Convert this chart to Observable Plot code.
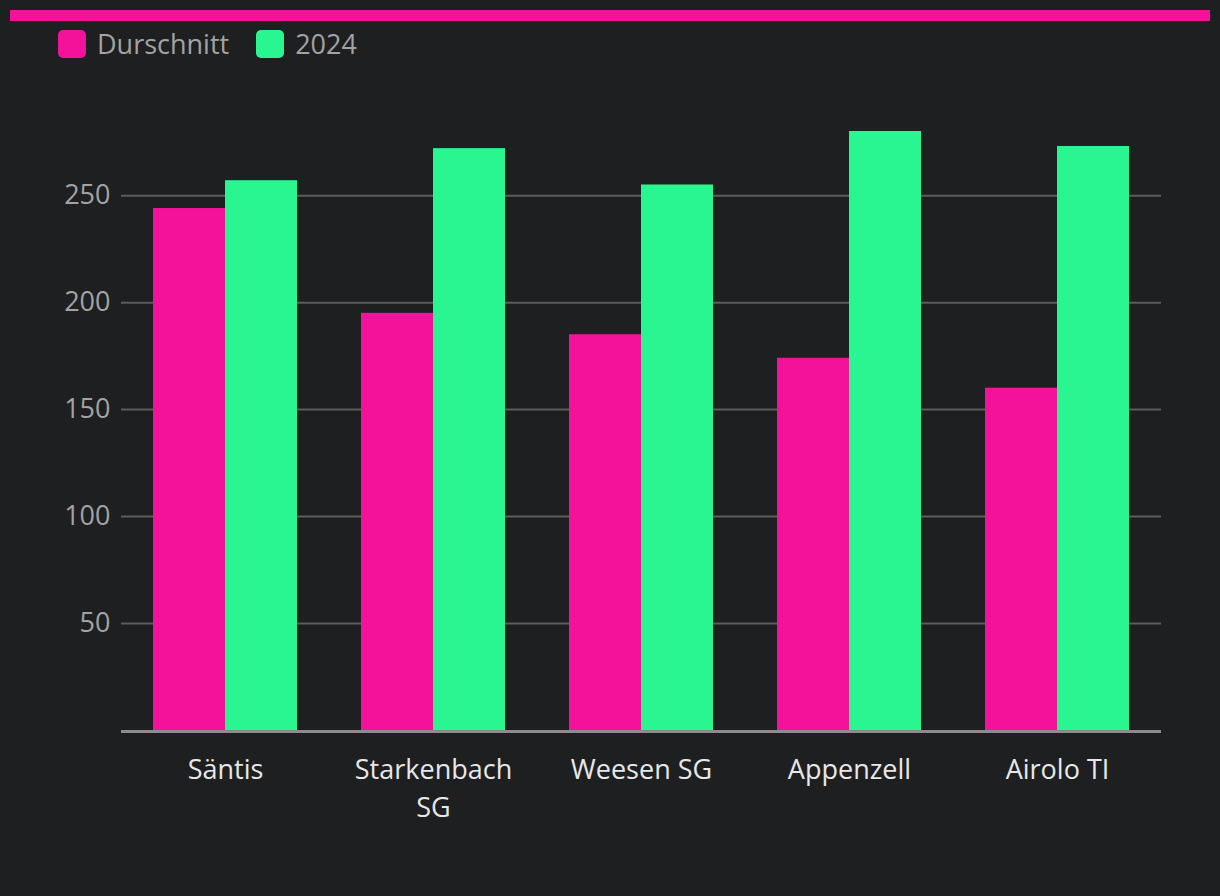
<!DOCTYPE html>
<html><head><meta charset="utf-8">
<script src="https://cdn.jsdelivr.net/npm/d3@7"></script>
<script src="https://cdn.jsdelivr.net/npm/@observablehq/plot@0.6"></script>
<style>
html,body{margin:0;padding:0;background:#1e1f21;width:1220px;height:896px;overflow:hidden;font-family:"Open Sans",Lato,sans-serif;}
#bar{position:absolute;left:10px;top:10px;width:1200px;height:11px;background:#f4129b;}
#legend{position:absolute;left:58px;top:25px;display:flex;align-items:center;font-size:27px;color:#a3a3a3;}
.item{display:flex;align-items:center;margin-right:27px;}
.sw{width:28px;height:28px;border-radius:5px;margin-right:11px;}
#chart{position:absolute;left:0;top:70px;}
</style></head>
<body>
<div id="bar"></div>
<div id="legend"></div>
<div id="chart"></div>
<script>
const categories = ["Säntis", "Starkenbach SG", "Weesen SG", "Appenzell", "Airolo TI"];
const seriesNames = ["Durschnitt", "2024"];
const durchschnitt = [244, 195, 185, 174, 160];
const y2024 = [257, 272, 255, 280, 273];
const yTicks = [50, 100, 150, 200, 250];
const colors = ["#f4129b", "#29f691"];

const rows = [];
categories.forEach((c, i) => {
  rows.push({cat: c, series: seriesNames[0], value: durchschnitt[i]});
  rows.push({cat: c, series: seriesNames[1], value: y2024[i]});
});

const legend = document.getElementById("legend");
seriesNames.forEach((s, i) => {
  const it = document.createElement("div"); it.className = "item";
  const sw = document.createElement("div"); sw.className = "sw"; sw.style.background = colors[i];
  const t = document.createElement("span"); t.textContent = s;
  it.appendChild(sw); it.appendChild(t); legend.appendChild(it);
});

const wrap = d => d.length > 10 ? d.replace(/ (?=[^ ]*$)/, "\n") : d;

const chart = Plot.plot({
  width: 1220,
  height: 820,
  marginTop: 61,
  marginBottom: 160,
  marginLeft: 120,
  marginRight: 58,
  style: {background: "transparent", fontFamily: "'Open Sans', Lato, sans-serif"},
  fx: {domain: categories, padding: 0, label: null},
  x: {domain: seriesNames, paddingInner: 0, paddingOuter: 0.43, axis: null},
  y: {domain: [0, 280], label: null},
  color: {domain: seriesNames, range: colors},
  marks: [
    Plot.gridY(yTicks, {stroke: "#5c5c5c", strokeOpacity: 1, strokeWidth: 2}),
    Plot.barY(rows, {fx: "cat", x: "series", y: "value", fill: "series", inset: 0}),
    Plot.ruleY([0], {stroke: "#8c8c8c", strokeWidth: 3, dy: 1}),
    Plot.axisY(yTicks, {tickSize: 0, tickPadding: 11, fontSize: 27, color: "#a3a3a3", label: null}),
    Plot.axisFx({anchor: "bottom", tickSize: 0, tickPadding: 22, fontSize: 27, color: "#e8e8e8", label: null, tickFormat: wrap, lineHeight: 1.4})
  ]
});
document.getElementById("chart").appendChild(chart);
</script>
</body></html>
